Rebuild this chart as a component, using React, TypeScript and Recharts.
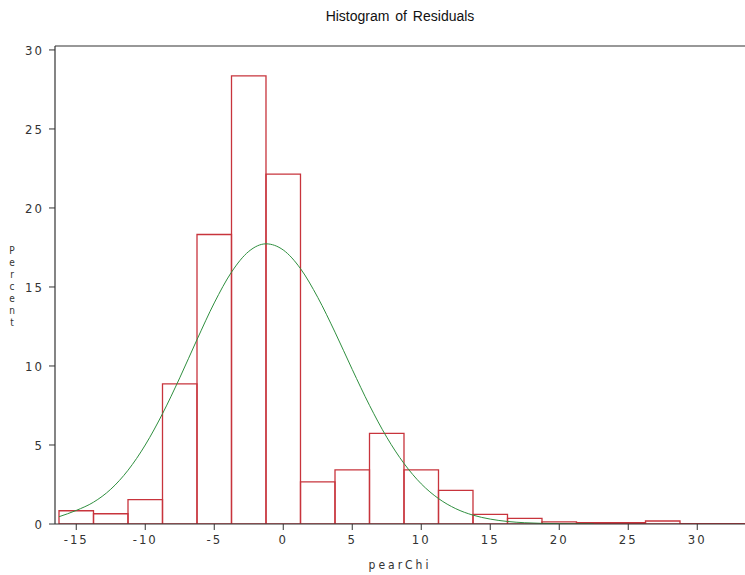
import { ComposedChart, Bar, Line, XAxis, YAxis, ReferenceLine, Label } from 'recharts';

// histogram bins (midpoints, width 2.5) and their percent of observations
const binMid = [-15, -12.5, -10, -7.5, -5, -2.5, 0, 2.5, 5, 7.5, 10, 12.5, 15, 17.5, 20, 22.5, 25, 27.5, 30, 32.5];
const binPct = [0.84, 0.65, 1.54, 8.87, 18.32, 28.36, 22.14, 2.66, 3.43, 5.73, 3.43, 2.13, 0.61, 0.36, 0.13, 0.08, 0.08, 0.19, 0.03, 0.03];

// fitted normal curve, in the same percent units
const fitX = [
  -16.25, -15, -13.75, -12.5, -11.25, -10, -8.75, -7.5, -6.25, -5, -3.75, -2.5, -1.25, 0, 1.25, 2.5,
  3.75, 5, 6.25, 7.5, 8.75, 10, 11.25, 12.5, 13.75, 15, 16.25, 17.5, 18.75, 20, 21.25, 22.5,
];
const fitPct = [
  0.46, 0.86, 1.38, 2.2, 3.4, 5.0, 6.98, 9.25, 11.67, 13.99, 15.94, 17.25, 17.73, 17.34, 16.16, 14.34,
  12.14, 9.78, 7.51, 5.49, 3.83, 2.54, 1.61, 0.97, 0.56, 0.31, 0.16, 0.08, 0.04, 0.02, 0.01, 0,
];

const xTicks = [-15, -10, -5, 0, 5, 10, 15, 20, 25, 30];
const yTicks = [0, 5, 10, 15, 20, 25, 30];

const bins = binMid.map((mid, i) => ({ mid, pct: binPct[i] }));
const fit = fitX.map((x, i) => ({ x, pct: fitPct[i] }));

const W = 745;
const H = 575;
const LEFT = 55;
const TOP = 46;
const XAXIS_H = 51;
const X_DOMAIN: [number, number] = [-16.54, 33.46];
const Y_MAX = 30.25;
const BIN_W = 2.5;
const barPx = ((W - LEFT) / (X_DOMAIN[1] - X_DOMAIN[0])) * BIN_W - 0.01;

const axisFont = '"Liberation Sans Narrow", "DejaVu Sans Condensed", sans-serif';
const ink = '#333';
const red = '#c8343c';
const green = '#2f8f3f';

const tickStyle = { fontFamily: axisFont, fontSize: 13, fill: ink, letterSpacing: 2 };

// "Percent" written as a column of upright letters
const YTitle = ({ viewBox }: any) => {
  const letters = 'Percent'.split('');
  const cy = viewBox.y + viewBox.height / 2 + 5;
  const step = 12;
  return (
    <g>
      {letters.map((ch, i) => (
        <text key={i} x={12} y={cy + (i - 3) * step} fontFamily={axisFont} fontSize={10} fill={ink} textAnchor="middle">
          {ch}
        </text>
      ))}
    </g>
  );
};

const XTitle = ({ viewBox }: any) => (
  <text
    x={viewBox.x + viewBox.width / 2}
    y={viewBox.y + 45}
    fontFamily={axisFont}
    fontSize={12}
    fill={ink}
    textAnchor="middle"
    letterSpacing={3}
  >
    pearChi
  </text>
);

export default function App() {
  return (
    <div style={{ position: 'absolute', left: 0, top: 0, width: W, height: H, background: '#fff' }}>
      <div
        style={{
          position: 'absolute',
          left: LEFT,
          top: 8,
          width: W - LEFT,
          textAlign: 'center',
          fontFamily: '"Liberation Sans", Arial, sans-serif',
          fontSize: 14,
          wordSpacing: 2,
          color: '#111',
        }}
      >
        Histogram of Residuals
      </div>
      <ComposedChart width={W} height={H} data={bins} margin={{ top: TOP, right: 0, bottom: 0, left: 0 }}>
        <XAxis
          dataKey="mid"
          type="number"
          domain={X_DOMAIN}
          ticks={xTicks}
          allowDataOverflow
          height={XAXIS_H}
          tickSize={6}
          tickMargin={5}
          axisLine={{ stroke: ink, strokeWidth: 1.2 }}
          tickLine={{ stroke: ink }}
          tick={tickStyle}
        >
          <Label content={XTitle} />
        </XAxis>
        <XAxis xAxisId="fit" dataKey="x" type="number" domain={X_DOMAIN} allowDataOverflow hide />
        <YAxis
          type="number"
          domain={[0, Y_MAX]}
          ticks={yTicks}
          allowDataOverflow
          width={LEFT}
          tickSize={6}
          tickMargin={5}
          axisLine={{ stroke: ink, strokeWidth: 1.2 }}
          tickLine={{ stroke: ink }}
          tick={tickStyle}
        >
          <Label content={YTitle} />
        </YAxis>
        <ReferenceLine y={Y_MAX} stroke={ink} strokeWidth={1.2} />
        <Bar dataKey="pct" fill="none" stroke={red} strokeWidth={1.3} barSize={barPx} isAnimationActive={false} />
        <Line
          xAxisId="fit"
          data={fit}
          dataKey="pct"
          type="monotone"
          stroke={green}
          strokeWidth={1}
          dot={false}
          activeDot={false}
          isAnimationActive={false}
        />
      </ComposedChart>
    </div>
  );
}
